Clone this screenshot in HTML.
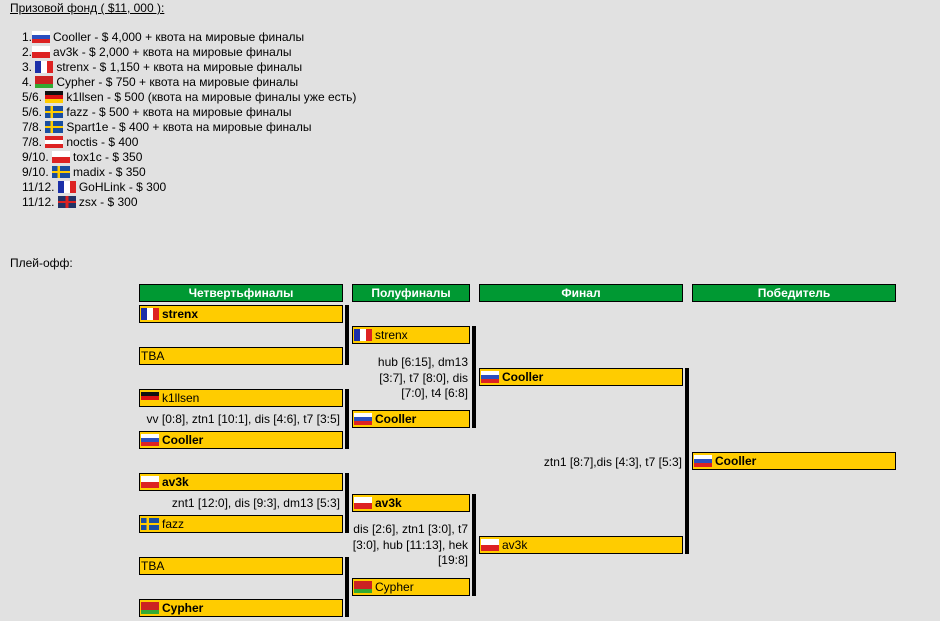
<!DOCTYPE html>
<html><head><meta charset="utf-8"><style>
body{margin:0;background:#e1e1e1;font-family:"Liberation Sans",Arial,sans-serif;font-size:12px;color:#000;width:940px;height:621px;overflow:hidden;position:relative}
.a{position:absolute;white-space:nowrap;line-height:15px}
.f{display:inline-block;width:18px;height:12px;vertical-align:-2px;margin-right:3px;border:0}
.ru{background:linear-gradient(#fff 33%,#2a4fc0 33% 66%,#d22 66%)}
.pl{background:linear-gradient(#fff 50%,#d22 50%)}
.fr{background:linear-gradient(90deg,#1b2fa8 33%,#fff 33% 66%,#d22 66%)}
.by{background:linear-gradient(#c22 66%,#3a3 66%)}
.de{background:linear-gradient(#111 33%,#d11 33% 66%,#fc0 66%)}
.se{background:linear-gradient(transparent 40%,#fc0 40% 60%,transparent 60%),linear-gradient(90deg,#1a4ea0 30%,#fc0 30% 45%,#1a4ea0 45%)}
.at{background:linear-gradient(#d22 33%,#fff 33% 66%,#d22 66%)}
.gb{background:linear-gradient(transparent 40%,#d22 40% 60%,transparent 60%),linear-gradient(90deg,#236 42%,#d22 42% 58%,#236 58%)}
.h{position:absolute;top:284px;height:16px;background:#009933;border:1px solid #000;color:#fff;font-weight:bold;text-align:center;line-height:16px}
.b{position:absolute;height:16px;background:#ffcc00;border:1px solid #000;line-height:16px;padding-left:1px;white-space:nowrap}
.b .f{vertical-align:-2px}
.bold{font-weight:bold}
.v{position:absolute;width:4px;background:#000}
.r{position:absolute;text-align:right;line-height:15.5px}
</style></head><body>
<div class="a" style="left:10px;top:1px;text-decoration:underline">Призовой фонд ( $11, 000 ):</div>
<div class="a" style="left:22px;top:30px">1.<span class="f ru"></span>Cooller - $ 4,000 + квота на мировые финалы<br>
2.<span class="f pl"></span>av3k - $ 2,000 + квота на мировые финалы<br>
3. <span class="f fr"></span>strenx - $ 1,150 + квота на мировые финалы<br>
4. <span class="f by"></span>Cypher - $ 750 + квота на мировые финалы<br>
5/6. <span class="f de"></span>k1llsen - $ 500 (квота на мировые финалы уже есть)<br>
5/6. <span class="f se"></span>fazz - $ 500 + квота на мировые финалы<br>
7/8. <span class="f se"></span>Spart1e - $ 400 + квота на мировые финалы<br>
7/8. <span class="f at"></span>noctis - $ 400<br>
9/10. <span class="f pl"></span>tox1c - $ 350<br>
9/10. <span class="f se"></span>madix - $ 350<br>
11/12. <span class="f fr"></span>GoHLink - $ 300<br>
11/12. <span class="f gb"></span>zsx - $ 300</div>
<div class="a" style="left:10px;top:256px">Плей-офф:</div>

<div class="h" style="left:139px;width:202px">Четвертьфиналы</div>
<div class="h" style="left:352px;width:116px">Полуфиналы</div>
<div class="h" style="left:479px;width:202px">Финал</div>
<div class="h" style="left:692px;width:202px">Победитель</div>

<div class="b bold" style="left:139px;top:305px;width:201px"><span class="f fr"></span>strenx</div>
<div class="b" style="left:139px;top:347px;width:201px">TBA</div>
<div class="b" style="left:139px;top:389px;width:201px"><span class="f de"></span>k1llsen</div>
<div class="b bold" style="left:139px;top:431px;width:201px"><span class="f ru"></span>Cooller</div>
<div class="b bold" style="left:139px;top:473px;width:201px"><span class="f pl"></span>av3k</div>
<div class="b" style="left:139px;top:515px;width:201px"><span class="f se"></span>fazz</div>
<div class="b" style="left:139px;top:557px;width:201px">TBA</div>
<div class="b bold" style="left:139px;top:599px;width:201px"><span class="f by"></span>Cypher</div>

<div class="b" style="left:352px;top:326px;width:115px"><span class="f fr"></span>strenx</div>
<div class="b bold" style="left:352px;top:410px;width:115px"><span class="f ru"></span>Cooller</div>
<div class="b bold" style="left:352px;top:494px;width:115px"><span class="f pl"></span>av3k</div>
<div class="b" style="left:352px;top:578px;width:115px"><span class="f by"></span>Cypher</div>

<div class="b bold" style="left:479px;top:368px;width:201px"><span class="f ru"></span>Cooller</div>
<div class="b" style="left:479px;top:536px;width:201px"><span class="f pl"></span>av3k</div>

<div class="b bold" style="left:692px;top:452px;width:201px"><span class="f ru"></span>Cooller</div>

<div class="v" style="left:345px;top:305px;height:60px"></div>
<div class="v" style="left:345px;top:389px;height:60px"></div>
<div class="v" style="left:345px;top:473px;height:60px"></div>
<div class="v" style="left:345px;top:557px;height:60px"></div>
<div class="v" style="left:472px;top:326px;height:102px"></div>
<div class="v" style="left:472px;top:494px;height:102px"></div>
<div class="v" style="left:685px;top:368px;height:186px"></div>

<div class="r" style="left:139px;width:201px;top:412px">vv [0:8], ztn1 [10:1], dis [4:6], t7 [3:5]</div>
<div class="r" style="left:139px;width:201px;top:496px">znt1 [12:0], dis [9:3], dm13 [5:3]</div>
<div class="r" style="left:350px;width:118px;top:355px">hub [6:15], dm13<br>[3:7], t7 [8:0], dis<br>[7:0], t4 [6:8]</div>
<div class="r" style="left:350px;width:118px;top:522px">dis [2:6], ztn1 [3:0], t7<br>[3:0], hub [11:13], hek<br>[19:8]</div>
<div class="r" style="left:479px;width:203px;top:455px">ztn1 [8:7],dis [4:3], t7 [5:3]</div>
</body></html>
